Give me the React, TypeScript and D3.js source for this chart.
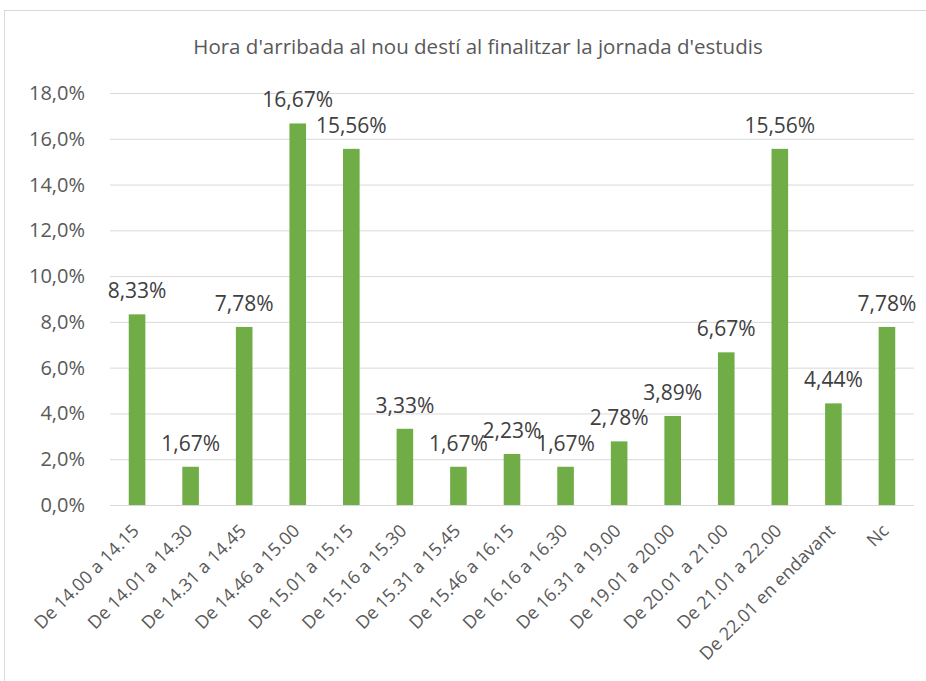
import * as d3 from 'd3';
import React, { useEffect, useRef } from 'react';

// dades llegides del gràfic
const categories = [
  'De 14.00 a 14.15', 'De 14.01 a 14.30', 'De 14.31 a 14.45', 'De 14.46 a 15.00',
  'De 15.01 a 15.15', 'De 15.16 a 15.30', 'De 15.31 a 15.45', 'De 15.46 a 16.15',
  'De 16.16 a 16.30', 'De 16.31 a 19.00', 'De 19.01 a 20.00', 'De 20.01 a 21.00',
  'De 21.01 a 22.00', 'De 22.01 en endavant', 'Nc',
];
const values = [8.33, 1.67, 7.78, 16.67, 15.56, 3.33, 1.67, 2.23, 1.67, 2.78, 3.89, 6.67, 15.56, 4.44, 7.78];
const yTicks = [0, 2, 4, 6, 8, 10, 12, 14, 16, 18];
const title = "Hora d'arribada al nou destí al finalitzar la jornada d'estudis";

const W = 926;
const H = 681;
const font = "'Open Sans', sans-serif";
const fmt = (v: number, d: number) => v.toFixed(d).replace('.', ',') + '%';

export default function App() {
  const svgRef = useRef<SVGSVGElement>(null);

  useEffect(() => {
    const svg = d3.select(svgRef.current);
    svg.selectAll('*').remove();

    // marc del gràfic
    svg.append('rect')
      .attr('x', 4.5).attr('y', 10.5)
      .attr('width', W + 10).attr('height', H + 10)
      .attr('fill', '#fff').attr('stroke', '#d9d9d9');

    const left = 110, right = 914, top = 93, bottom = 505;
    const x = d3.scaleBand().domain(categories).range([left, right]).paddingInner(0.69).paddingOuter(0.35);
    const y = d3.scaleLinear().domain([0, 18]).range([bottom, top]);

    svg.append('text')
      .attr('x', 478).attr('y', 54)
      .attr('text-anchor', 'middle')
      .attr('font-family', font).attr('font-size', 20.5)
      .attr('fill', '#595959')
      .text(title);

    // línies de la graella
    svg.append('g').selectAll('line').data(yTicks).join('line')
      .attr('x1', left).attr('x2', right)
      .attr('y1', d => y(d) + 0.5).attr('y2', d => y(d) + 0.5)
      .attr('stroke', '#d9d9d9').attr('stroke-width', 1);

    svg.append('g').selectAll('text').data(yTicks).join('text')
      .attr('x', 85).attr('y', d => y(d))
      .attr('dy', '0.35em')
      .attr('text-anchor', 'end')
      .attr('font-family', font).attr('font-size', 20)
      .attr('fill', '#595959')
      .text(d => fmt(d, 1));

    svg.append('g').selectAll('rect').data(values).join('rect')
      .attr('x', (_, i) => x(categories[i])!)
      .attr('width', x.bandwidth())
      .attr('y', d => y(d))
      .attr('height', d => bottom - y(d))
      .attr('fill', '#70ad47');

    svg.append('g').selectAll('text').data(values).join('text')
      .attr('x', (_, i) => x(categories[i])! + x.bandwidth() / 2)
      .attr('y', d => y(d) - 16)
      .attr('text-anchor', 'middle')
      .attr('font-family', font).attr('font-size', 21)
      .attr('fill', '#404040')
      .text(d => fmt(d, 2));

    // etiquetes de l'eix x, girades
    svg.append('g').selectAll('text').data(categories).join('text')
      .attr('transform', d => `translate(${x(d)! + x.bandwidth() / 2 + 3},${bottom + 27}) rotate(-45)`)
      .attr('text-anchor', 'end')
      .attr('font-family', font).attr('font-size', 18)
      .attr('fill', '#595959')
      .text(d => d);
  }, []);

  return (
    <svg ref={svgRef} width={W} height={H} style={{ position: 'absolute', left: 0, top: 0 }} />
  );
}
